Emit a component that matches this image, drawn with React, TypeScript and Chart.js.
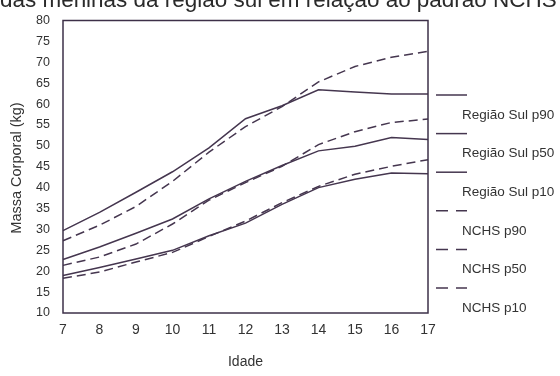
import React, { useEffect, useRef } from "react";
import { Chart, registerables } from "chart.js";

Chart.register(...registerables);

const ages = ["7", "8", "9", "10", "11", "12", "13", "14", "15", "16", "17"];
const rsP90 = [29.7, 34.1, 38.9, 43.8, 49.5, 56.5, 59.6, 63.4, 62.9, 62.4, 62.4];
const rsP50 = [22.8, 25.8, 29.1, 32.5, 37.3, 41.5, 45.3, 48.8, 49.9, 52.0, 51.5];
const rsP10 = [19.0, 20.9, 22.9, 25.0, 28.5, 31.5, 36.0, 40.0, 42.0, 43.5, 43.3];
const nchsP90 = [27.3, 31.0, 35.5, 41.5, 48.5, 54.6, 59.4, 65.3, 69.0, 71.2, 72.6];
const nchsP50 = [21.4, 23.4, 26.5, 31.3, 37.0, 41.2, 45.1, 50.3, 53.4, 55.6, 56.4];
const nchsP10 = [18.3, 19.8, 22.2, 24.5, 28.3, 32.0, 36.4, 40.3, 43.2, 45.1, 46.7];
const seriesNames = [
  "Região Sul p90",
  "Região Sul p50",
  "Região Sul p10",
  "NCHS p90",
  "NCHS p50",
  "NCHS p10",
];
const titleText = "das meninas da região sul em relação ao padrão NCHS";
const yTitle = "Massa Corporal (kg)";
const xTitle = "Idade";

const LINE = "#45364f";
const TEXT = "#333333";
const FONT = "'Liberation Sans', Arial, sans-serif";

export default function App() {
  const ref = useRef<HTMLCanvasElement | null>(null);

  useEffect(() => {
    if (!ref.current) return;
    const values = [rsP90, rsP50, rsP10, nchsP90, nchsP50, nchsP10];
    const datasets = values.map((v, i) => ({
      label: seriesNames[i],
      data: v,
      borderColor: LINE,
      borderWidth: 1.5,
      borderDash: i >= 3 ? [9, 5] : [],
      pointRadius: 0,
      tension: 0,
      fill: false,
    }));

    const decor = {
      id: "decor",
      afterDraw(chart: any) {
        const ctx = chart.ctx;
        const a = chart.chartArea;
        ctx.save();
        // box
        ctx.strokeStyle = "#3d3048";
        ctx.lineWidth = 1.5;
        ctx.setLineDash([]);
        ctx.strokeRect(a.left, a.top, a.right - a.left, a.bottom - a.top);

        // title (cropped at top)
        ctx.fillStyle = "#2a2a2a";
        ctx.font = `20px ${FONT}`;
        const w = ctx.measureText(titleText).width;
        const size = (20 * 557) / w;
        ctx.font = `${size}px ${FONT}`;
        ctx.textAlign = "left";
        ctx.textBaseline = "alphabetic";
        ctx.fillText(titleText, 0, 7);

        // y title
        ctx.fillStyle = TEXT;
        ctx.font = `14.5px ${FONT}`;
        ctx.save();
        ctx.translate(17, 168);
        ctx.rotate(-Math.PI / 2);
        ctx.textAlign = "center";
        ctx.textBaseline = "middle";
        ctx.fillText(yTitle, 0, 0);
        ctx.restore();

        // x title
        ctx.font = `14px ${FONT}`;
        ctx.textAlign = "center";
        ctx.textBaseline = "middle";
        ctx.fillText(xTitle, (a.left + a.right) / 2, 362);

        // legend
        chart.data.datasets.forEach((ds: any, i: number) => {
          const ly = 95 + 38.6 * i;
          ctx.strokeStyle = LINE;
          ctx.lineWidth = 1.5;
          ctx.setLineDash(ds.borderDash && ds.borderDash.length ? [12, 8] : []);
          ctx.beginPath();
          ctx.moveTo(436, ly);
          ctx.lineTo(467, ly);
          ctx.stroke();
          ctx.setLineDash([]);
          ctx.fillStyle = TEXT;
          ctx.font = `13.5px ${FONT}`;
          ctx.textAlign = "left";
          ctx.textBaseline = "middle";
          ctx.fillText(ds.label, 462, ly + 20);
        });
        ctx.restore();
      },
    };

    const chart = new Chart(ref.current, {
      type: "line",
      data: { labels: ages, datasets },
      options: {
        animation: false,
        responsive: false,
        layout: { padding: { top: 18, right: 132, left: 0, bottom: 0 } },
        plugins: { legend: { display: false }, tooltip: { enabled: false } },
        scales: {
          x: {
            offset: false,
            grid: { display: false, drawTicks: false },
            border: { display: false },
            ticks: {
              color: TEXT,
              font: { family: FONT, size: 14 },
              padding: 9,
              maxRotation: 0,
              autoSkip: false,
            },
            afterFit: (s: any) => {
              s.height = 63;
            },
          },
          y: {
            min: 10,
            max: 80,
            grid: { display: false, drawTicks: false },
            border: { display: false },
            ticks: {
              stepSize: 5,
              color: TEXT,
              font: { family: FONT, size: 12.5 },
              padding: 13,
            },
            afterFit: (s: any) => {
              s.width = 63;
            },
          },
        },
      },
      plugins: [decor],
    });
    return () => chart.destroy();
  }, []);

  return (
    <div style={{ position: "absolute", left: 0, top: 0, width: 560, height: 376, background: "#fff" }}>
      <canvas ref={ref} width={560} height={376} style={{ width: 560, height: 376 }} />
    </div>
  );
}
